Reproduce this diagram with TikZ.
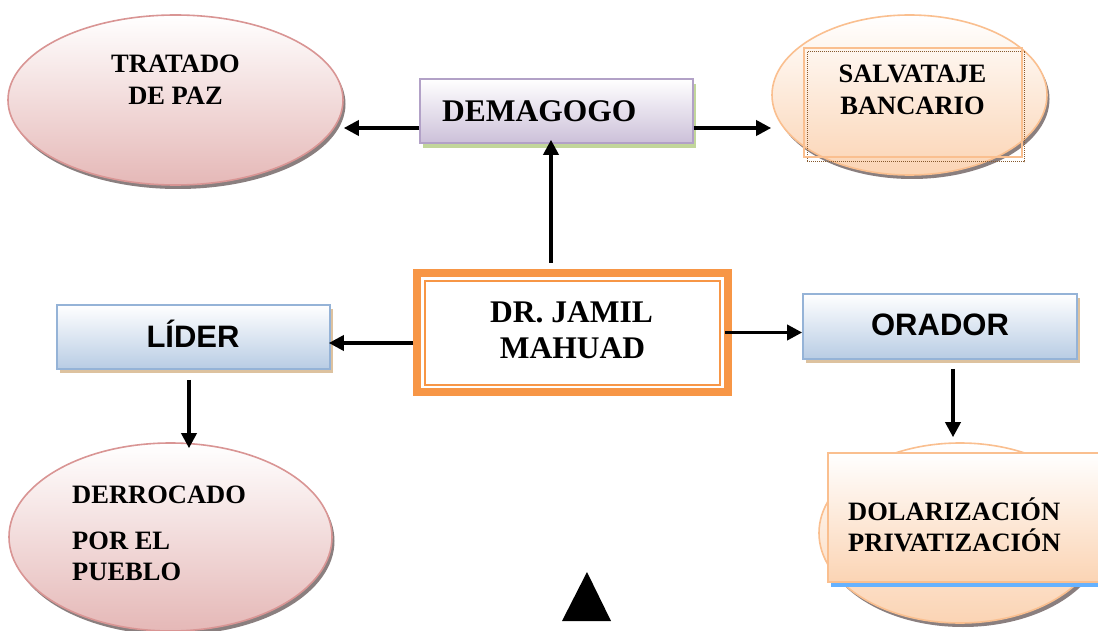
\documentclass[tikz,border=0pt]{standalone}
\usepackage{fontspec}
\setmainfont{Liberation Serif}
\newfontfamily\arialfont{Liberation Sans}
\usetikzlibrary{arrows.meta,shapes.geometric}
\definecolor{pinkB}{HTML}{D99594}
\definecolor{pinkF}{HTML}{E5B8B7}
\definecolor{lavB}{HTML}{B2A1C7}
\definecolor{lavF}{HTML}{CCC0D9}
\definecolor{greenS}{HTML}{C2D69B}
\definecolor{peachB}{HTML}{FABF8F}
\definecolor{peachF}{HTML}{FBD4B4}
\definecolor{blueB}{HTML}{95B3D7}
\definecolor{blueF}{HTML}{B8CCE4}
\definecolor{tanS}{HTML}{DDC29F}
\definecolor{orangeC}{HTML}{F79646}
\definecolor{blueLine}{HTML}{66B2FF}
\definecolor{shadowG}{HTML}{8A7F7F}
\begin{document}
\begin{tikzpicture}[x=1pt,y=-1pt,
  ell/.style={ellipse, inner sep=0pt, line width=1.6pt},
  pinkell/.style={ell, draw=pinkB, top color=white, bottom color=pinkF},
  peachell/.style={ell, draw=peachB, top color=white, bottom color=peachF},
  ellshadow/.style={ellipse, inner sep=0pt, fill=shadowG},
  box/.style={rectangle, inner sep=0pt, line width=1.6pt},
  lavbox/.style={box, draw=lavB, top color=white, bottom color=lavF},
  bluebox/.style={box, draw=blueB, top color=white, bottom color=blueF},
  peachbox/.style={box, draw=peachB, top color=white, bottom color=peachF},
  boxshadow/.style={rectangle, inner sep=0pt},
  tS/.style={font=\bfseries\fontsize{26.5}{30}\selectfont, inner sep=0pt, anchor=base},
  tB/.style={font=\bfseries\fontsize{31.5}{36}\selectfont, inner sep=0pt, anchor=base},
  sB/.style={font=\arialfont\bfseries\fontsize{31}{36}\selectfont, inner sep=0pt, anchor=base},
  arr/.style={line width=3.5pt, -{Triangle[length=15pt,width=15pt]}}
]
\clip (0,0) rectangle (1098,631);
\fill[white] (0,0) rectangle (1098,631);

% ---- TRATADO DE PAZ ellipse
\node[ellshadow, minimum width=335pt, minimum height=170pt] (trS) at (178,104) {};
\node[pinkell, minimum width=335pt, minimum height=170pt] (tratado) at (175.5,100) {};
\node[tS] (tr1) at (175.5,73) {TRATADO};
\node[tS] (tr2) at (175.5,105) {DE PAZ};

% ---- DEMAGOGO box
\node[boxshadow, fill=greenS, minimum width=273pt, minimum height=64pt] (dmS) at (559.5,116) {};
\node[lavbox, minimum width=273pt, minimum height=64pt] (demagogo) at (556.5,111) {};
\node[tB, anchor=base west] (dmT) at (442,122) {DEMAGOGO};

% ---- SALVATAJE BANCARIO ellipse
\node[ellshadow, minimum width=275pt, minimum height=160pt] (svS) at (912,99) {};
\node[peachell, minimum width=275pt, minimum height=160pt] (salv) at (909.5,95) {};
\node[rectangle, inner sep=0pt, draw=brown!70!black, densely dotted, line width=1pt,
      minimum width=217pt, minimum height=110pt] (svrS) at (915.5,107) {};
\node[rectangle, inner sep=0pt, draw=peachB, line width=2pt,
      minimum width=218pt, minimum height=109pt] (salvrect) at (913,102.5) {};
\node[tS] (sv1) at (912.5,83) {SALVATAJE};
\node[tS] (sv2) at (912.5,115) {BANCARIO};

% ---- Central box
\node[rectangle, inner sep=0pt, draw=orangeC, fill=white, line width=8pt,
      minimum width=311pt, minimum height=119pt] (central) at (572.5,332.5) {};
\node[rectangle, inner sep=0pt, draw=orangeC, line width=1.5pt,
      minimum width=295pt, minimum height=104pt] (centralin) at (572.5,333) {};
\node[tB] (c1) at (571.5,322) {DR. JAMIL};
\node[tB] (c2) at (572.5,358) {MAHUAD};

% ---- LIDER box
\node[boxshadow, fill=tanS, minimum width=273pt, minimum height=64pt] (ldS) at (196.5,341) {};
\node[bluebox, minimum width=273pt, minimum height=64pt] (lider) at (193.5,337) {};
\node[sB] (ldT) at (193,347) {LÍDER};

% ---- ORADOR box
\node[boxshadow, fill=tanS, minimum width=274pt, minimum height=65pt] (orS) at (943,330.5) {};
\node[bluebox, minimum width=274pt, minimum height=65pt] (orador) at (940,326.5) {};
\node[sB] (orT) at (940,335) {ORADOR};

% ---- DERROCADO ellipse
\node[ellshadow, minimum width=323pt, minimum height=188pt] (drS) at (173,541) {};
\node[pinkell, minimum width=323pt, minimum height=188pt] (derrocado) at (170.5,537) {};
\node[tS, anchor=base west] (d1) at (72,503) {DERROCADO};
\node[tS, anchor=base west] (d2) at (72,549) {POR EL};
\node[tS, anchor=base west] (d3) at (72,580) {PUEBLO};

% ---- DOLARIZACION ellipse + box
\node[ellshadow, minimum width=282pt, minimum height=180pt] (doS) at (963,537) {};
\node[peachell, minimum width=282pt, minimum height=180pt] (dolarell) at (960,533) {};
\node[rectangle, inner sep=0pt, fill=blueLine, minimum width=290pt, minimum height=4pt] (doLine) at (976,585) {};
\node[peachbox, line width=2pt, minimum width=290pt, minimum height=129pt] (dolarrect) at (973,517.5) {};
\node[tS, anchor=base west] (do1) at (848,520) {DOLARIZACIÓN};
\node[tS, anchor=base west] (do2) at (848,551) {PRIVATIZACIÓN};

% ---- Triangle
\fill[black] (587,572) -- (611,621) -- (562,621) -- cycle;

% ---- Connectors
\draw[arr] ([yshift=-17pt]demagogo.west) -- ([yshift=-17pt]demagogo.west -| tratado.east);
\draw[arr] ([yshift=-17pt]demagogo.east) -- ([yshift=-17pt]demagogo.east -| salv.west);
\draw[arr, shorten <=6pt, shorten >=-4pt] ([xshift=-21.5pt]central.north) -- ([xshift=-21.5pt]central.north |- demagogo.south);
\draw[arr, shorten >=-2pt] ([yshift=-10.5pt]central.west) -- ([yshift=-10.5pt]central.west -| lider.east);
\draw[arr, shorten <=-7pt] (central.east) -- (central.east -| orador.west);
\draw[arr, shorten <=9pt, shorten >=5pt] ([xshift=13pt]orador.south) -- ([xshift=13pt]orador.south |- dolarell.north);
\draw[arr, shorten <=10pt, shorten >=-6pt] ([xshift=-4.5pt]lider.south) -- ([xshift=-4.5pt]lider.south |- derrocado.north);
\end{tikzpicture}
\end{document}
